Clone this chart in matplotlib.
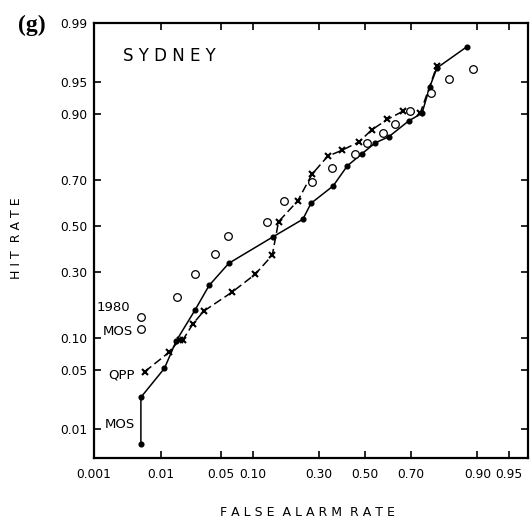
import numpy as np
import matplotlib
matplotlib.use("Agg")
import matplotlib.pyplot as plt
from statistics import NormalDist

# ---------------- data (probabilities) ----------------
mos_far = [0.0053, 0.0053, 0.0111, 0.0157, 0.0263, 0.0377, 0.0602, 0.148, 0.239,
           0.269, 0.358, 0.420, 0.487, 0.547, 0.607, 0.691, 0.742, 0.769, 0.794, 0.877]
mos_hit = [0.0063, 0.0249, 0.0516, 0.0944, 0.168, 0.248, 0.335, 0.452, 0.531,
           0.603, 0.677, 0.755, 0.797, 0.830, 0.847, 0.886, 0.902, 0.944, 0.965, 0.980]

qpp_far = [0.0060, 0.0127, 0.0172, 0.0189, 0.0248, 0.033, 0.065, 0.105, 0.145, 0.162,
           0.221, 0.273, 0.335, 0.398, 0.471, 0.531, 0.600, 0.668, 0.736, 0.794]
qpp_hit = [0.0476, 0.074, 0.096, 0.096, 0.131, 0.165, 0.225, 0.290, 0.369, 0.520,
           0.613, 0.724, 0.788, 0.808, 0.832, 0.865, 0.889, 0.906, 0.903, 0.967]

mos80_far = [0.0053, 0.0054, 0.0161, 0.0266, 0.0436, 0.0591, 0.131, 0.178, 0.274,
             0.352, 0.453, 0.510, 0.580, 0.633, 0.694, 0.774, 0.832, 0.890]
mos80_hit = [0.149, 0.119, 0.209, 0.292, 0.373, 0.454, 0.520, 0.612, 0.692,
             0.746, 0.794, 0.828, 0.856, 0.879, 0.906, 0.936, 0.954, 0.964]

x_ticks = [0.001, 0.01, 0.05, 0.10, 0.30, 0.50, 0.70, 0.90, 0.95]
x_ticklabels = ['0.001', '0.01', '0.05', '0.10', '0.30', '0.50', '0.70', '0.90', '0.95']
y_ticks = [0.01, 0.05, 0.10, 0.30, 0.50, 0.70, 0.90, 0.95, 0.99]
y_ticklabels = ['0.01', '0.05', '0.10', '0.30', '0.50', '0.70', '0.90', '0.95', '0.99']

# ---------------- probit scale ----------------
_nd = NormalDist()
_ppf = np.vectorize(_nd.inv_cdf, otypes=[float])
_cdf = np.vectorize(_nd.cdf, otypes=[float])


def fwd(p):
    p = np.clip(np.asarray(p, dtype=float), 1e-12, 1 - 1e-12)
    return _ppf(p)


def inv(z):
    return _cdf(np.asarray(z, dtype=float))


plt.rcParams['font.family'] = ['DejaVu Sans']

fig = plt.figure(figsize=(5.32, 5.19), dpi=100)
ax = fig.add_axes([94 / 532, 61 / 519, 434 / 532, 435 / 519])
ax.set_xscale('function', functions=(fwd, inv))
ax.set_yscale('function', functions=(fwd, inv))
ax.set_xlim(0.001, 0.9684)
ax.set_ylim(0.00394, 0.99)

lw = 1.1
ax.plot(mos_far, mos_hit, color='black', lw=lw, marker='o', ms=3.4,
        mfc='black', mec='black', zorder=3)
ln, = ax.plot(qpp_far, qpp_hit, color='black', lw=lw, marker='x', ms=5,
              mew=1.5, zorder=3)
ln.set_dashes((5.5, 2.6))
ax.plot(mos80_far, mos80_hit, ls='none', marker='o', ms=5.5, mfc='white',
        mec='black', mew=0.9, zorder=4)

ax.set_xticks(x_ticks)
ax.set_xticklabels(x_ticklabels)
ax.set_yticks(y_ticks)
ax.set_yticklabels(y_ticklabels)
ax.minorticks_off()
ax.tick_params(direction='in', length=5, width=1.2, top=True, right=True,
               labelsize=8.8, pad=7)
ax.tick_params(axis='y', pad=5)
for s in ax.spines.values():
    s.set_linewidth(1.6)

ax.text(0.0668, 0.924, 'S Y D N E Y', transform=ax.transAxes, fontsize=12,
        ha='left', va='center')

ann_kw = dict(transform=ax.transAxes, fontsize=9.5, ha='right', va='center')
ax.text(0.083, 0.345, '1980', **ann_kw)
ax.text(0.0899, 0.2897, 'MOS', **ann_kw)
ax.text(0.0945, 0.191, 'QPP', **ann_kw)
ax.text(0.0945, 0.0759, 'MOS', **ann_kw)

fig.text(307 / 532, 1 - 512 / 519, 'F A L S E  A L A R M  R A T E',
         fontsize=9, ha='center', va='center')
fig.text(17 / 532, 1 - 238 / 519, 'H I T  R A T E', fontsize=9,
         ha='center', va='center', rotation=90)
fig.text(18 / 532, 1 - 25 / 519, '(g)', fontsize=17, fontweight='bold',
         family=['Liberation Serif', 'DejaVu Serif'], ha='left', va='center')

fig.savefig('out.png', dpi=100)
